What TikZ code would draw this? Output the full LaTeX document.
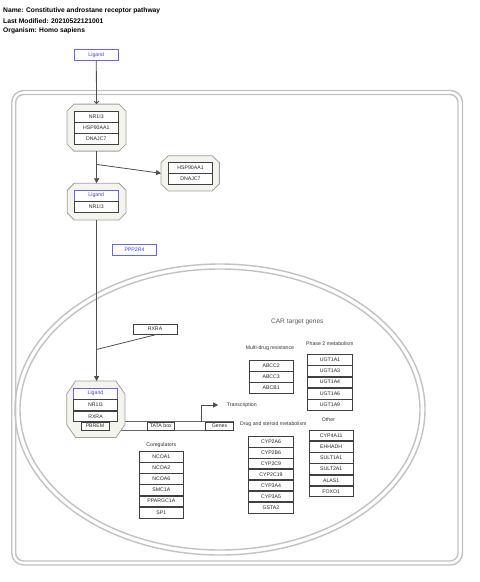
\documentclass[tikz,border=0pt]{standalone}
\usepackage{fontspec}
\setmainfont{Liberation Sans}
\usetikzlibrary{arrows.meta,calc}
\definecolor{cellc}{HTML}{C2C2C2}
\definecolor{octc}{HTML}{A0A0A0}
\definecolor{octf}{HTML}{F4F3EC}
\definecolor{boxc}{HTML}{404040}
\definecolor{ligc}{HTML}{3C3CFF}
\definecolor{ligb}{HTML}{6464FF}
\definecolor{linec}{HTML}{505050}
\newcommand{\octshape}[3]{%
  \draw[octa] ([xshift=#2pt]#1.north west) -- ([xshift=-#2pt]#1.north east)
   -- ([yshift=-#3pt]#1.north east) -- ([yshift=#3pt]#1.south east)
   -- ([xshift=-#2pt]#1.south east) -- ([xshift=#2pt]#1.south west)
   -- ([yshift=#3pt]#1.south west) -- ([yshift=-#3pt]#1.north west) -- cycle;}
\tikzset{
  cellline/.style={draw=cellc, line width=1.4pt},
  octa/.style={draw=octc, fill=octf, line width=0.8pt},
  holder/.style={inner sep=0pt, outer sep=0pt},
  gene/.style={draw=boxc, fill=white, line width=0.6pt, minimum width=44pt,
    minimum height=10.7pt, inner sep=0pt, font=\fontsize{5.2}{6}\selectfont, text=black!85},
  ligand/.style={gene, draw=ligb, text=ligc},
  small/.style={gene, minimum width=27pt, minimum height=8.5pt},
  lbl/.style={inner sep=0pt, font=\fontsize{5.2}{6}\selectfont, text=black!80},
  title/.style={inner sep=0pt, anchor=west, font=\bfseries\fontsize{6.7}{8}\selectfont},
  conn/.style={draw=linec, line width=0.8pt},
  filledtip/.style={conn, -{Triangle[length=5pt,width=5pt]}},
  opentip/.style={conn, -{Straight Barb[length=2.5pt,width=5pt]}},
}
\begin{document}
\begin{tikzpicture}[x=1pt,y=-1pt]
\useasboundingbox (0,0) rectangle (480,582);
\fill[white] (0,0) rectangle (480,582);
% title
\node[title] (t1) at (3,11) {Name: Constitutive androstane receptor pathway};
\node[title] (t2) at (3,21) {Last Modified: 20210522121001};
\node[title] (t3) at (3,31) {Organism: Homo sapiens};
% cell
\draw[cellline, rounded corners=12pt] (11.7,90.5) rectangle (462.5,565);
\draw[cellline, rounded corners=8pt] (15.7,94.5) rectangle (458,561);
% nucleus
\draw[cellline] (220,409.5) ellipse [x radius=205, y radius=145.5];
\draw[cellline] (220,409.5) ellipse [x radius=200, y radius=140.5];
% complex holders
\node[holder, minimum width=59pt, minimum height=47pt] (c1) at (96.5,127.6) {};
\node[holder, minimum width=58.3pt, minimum height=35.3pt] (c2) at (190.2,173.3) {};
\node[holder, minimum width=58.7pt, minimum height=36.7pt] (c3) at (96.6,201.6) {};
\node[holder, minimum width=58.3pt, minimum height=56.5pt] (c4) at (95.8,409.3) {};
% gene bar (behind complex)
\node[draw=boxc!80, fill=white, line width=0.6pt, inner sep=0pt, minimum width=152.3pt, minimum height=8.8pt] (bar) at (157.2,426.1) {};
% octagons
\octshape{c1}{7}{7}
\octshape{c2}{7.3}{7}
\octshape{c3}{7}{7}
\octshape{c4}{9}{13}
% top ligand
\node[ligand] (L0) at (96.3,54.7) {Ligand};
% complex 1
\node[gene] (c1a) at (96.3,116.5) {NR1I3};
\node[gene] (c1b) at (96.3,127.8) {HSP90AA1};
\node[gene] (c1c) at (96.3,139.1) {DNAJC7};
% complex 2
\node[gene] (c2a) at (190.5,167.7) {HSP90AA1};
\node[gene] (c2b) at (190.5,178.9) {DNAJC7};
% complex 3
\node[ligand] (c3a) at (96.3,195.5) {Ligand};
\node[gene] (c3b) at (96.3,206.8) {NR1I3};
% complex 4
\node[ligand] (c4a) at (95.5,393.6) {Ligand};
\node[gene] (c4b) at (95.5,405.1) {NR1I3};
\node[gene] (c4c) at (95.5,416.4) {RXRA};
\node[small, minimum width=28pt] (pbrem) at (95,426.1) {PBREM};
\node[small] (tata) at (160.8,426.1) {TATA box};
\node[small, minimum width=27.6pt] (genes) at (219.5,426.1) {Genes};
% other nodes
\node[ligand] (ppp) at (134.5,249.7) {PPP2R4};
\node[gene] (rxra) at (155,329.2) {RXRA};
% connectors
\draw[opentip] (L0.south) -- (c1.north);
\draw[filledtip] (c1.south) -- (c3.north);
\coordinate (b1) at ($(c1.south)+(0,13.3)$);
\draw[filledtip] (b1) -- (c2.west);
\draw[filledtip] (c3.south) -- (c3.south |- c4.north);
\coordinate (j1) at ($(c3.south)+(0,129.5)$);
\draw[conn] (rxra.south) -- (j1);
% transcription
\node[lbl, anchor=west] (trans) at (226.7,405) {Transcription};
\coordinate (t0) at (201.7,421.7);
\draw[filledtip] (t0) |- ([xshift=-8.5pt]trans.west);
% labels
\node[lbl, font=\fontsize{6.6}{8}\selectfont, text=black!65] (car) at (297.3,321.7) {CAR target genes};
\node[lbl] (mdr) at (270,347.7) {Multi-drug resistance};
\node[lbl] (ph2) at (329.8,344) {Phase 2 metabolism};
\node[lbl] (oth) at (328.5,420) {Other};
\node[lbl] (dsm) at (273.3,424.5) {Drug and steroid metabolism};
\node[lbl] (cor) at (161.3,445) {Coregulators};
% multi-drug resistance
\node[gene] (abcc2) at (271.2,365.8) {ABCC2};
\node[gene] (abcc3) at (271.2,376.6) {ABCC3};
\node[gene] (abcb1) at (271.2,387.8) {ABCB1};
% phase 2
\node[gene, minimum width=45pt] (u1) at (330,359.9) {UGT1A1};
\node[gene, minimum width=45pt] (u3) at (330,371) {UGT1A3};
\node[gene, minimum width=45pt] (u4) at (330,382.2) {UGT1A4};
\node[gene, minimum width=45pt] (u6) at (330,393.6) {UGT1A6};
\node[gene, minimum width=45pt] (u9) at (330,404.9) {UGT1A9};
% drug and steroid metabolism
\node[gene, minimum width=45pt] (cyp1) at (271,441.5) {CYP2A6};
\node[gene, minimum width=45pt] (cyp2) at (271,452.5) {CYP2B6};
\node[gene, minimum width=45pt] (cyp3) at (271,463.3) {CYP2C9};
\node[gene, minimum width=45pt] (cyp4) at (271,474.3) {CYP2C19};
\node[gene, minimum width=45pt] (cyp5) at (271,485.4) {CYP3A4};
\node[gene, minimum width=45pt] (cyp6) at (271,496.4) {CYP3A5};
\node[gene, minimum width=45pt] (gsta) at (271,507.8) {GSTA2};
% other
\node[gene] (o1) at (331.2,435.4) {CYP4A11};
\node[gene] (o2) at (331.2,447) {EHHADH};
\node[gene] (o3) at (331.2,458) {SULT1A1};
\node[gene] (o4) at (331.2,469) {SULT2A1};
\node[gene] (o5) at (331.2,480.3) {ALAS1};
\node[gene] (o6) at (331.2,491.4) {FOXO1};
% coregulators
\node[gene] (n1) at (161.3,457) {NCOA1};
\node[gene] (n2) at (161.3,468) {NCOA2};
\node[gene] (n3) at (161.3,479) {NCOA6};
\node[gene] (n4) at (161.3,490) {SMC1A};
\node[gene] (n5) at (161.3,501.2) {PPARGC1A};
\node[gene] (n6) at (161.3,512.8) {SP1};
\end{tikzpicture}
\end{document}
